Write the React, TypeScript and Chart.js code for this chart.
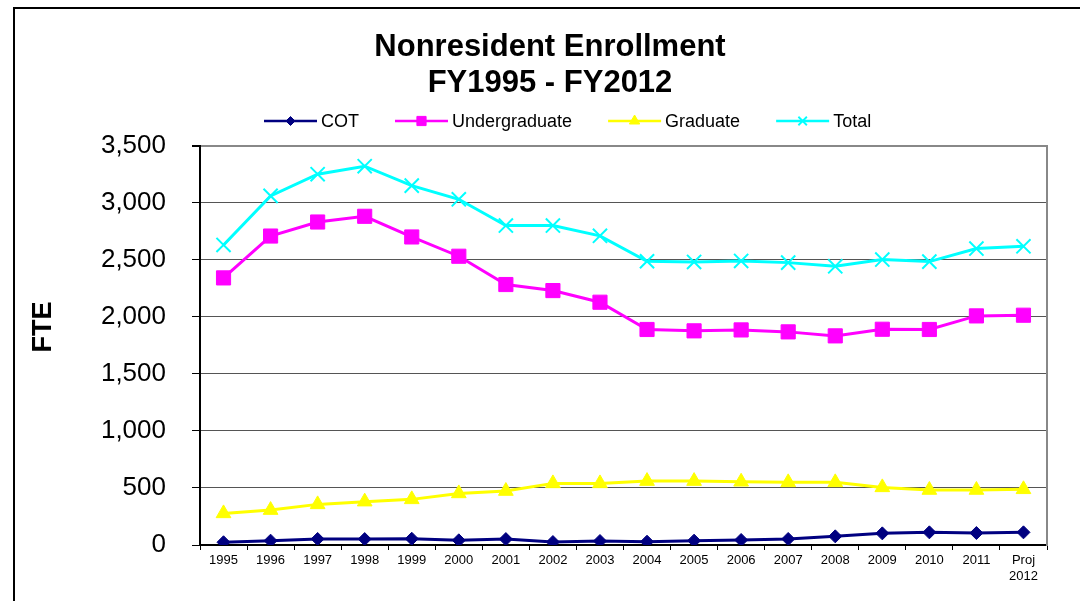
import React, { useEffect, useRef } from "react";
import { Chart, registerables } from "chart.js";

Chart.register(...registerables);

const categories: (string | string[])[] = [
  "1995", "1996", "1997", "1998", "1999", "2000", "2001", "2002", "2003",
  "2004", "2005", "2006", "2007", "2008", "2009", "2010", "2011", ["Proj", "2012"],
];

const cot = [24, 38, 53, 52, 55, 41, 52, 26, 35, 29, 38, 44, 53, 76, 102, 111, 105, 111];
const undergraduate = [2341, 2708, 2831, 2881, 2700, 2531, 2283, 2230, 2128, 1889, 1877, 1885, 1868, 1833, 1891, 1889, 2008, 2014];
const graduate = [277, 306, 356, 380, 400, 452, 473, 540, 540, 560, 560, 554, 549, 549, 505, 482, 482, 488];
const total = [2630, 3060, 3250, 3320, 3150, 3030, 2800, 2800, 2710, 2487, 2481, 2490, 2475, 2443, 2502, 2484, 2598, 2618];

const titleLines = ["Nonresident Enrollment", "FY1995 - FY2012"];
const yTitle = "FTE";
const yMin = 0;
const yMax = 3500;
const yStep = 500;

const FONT = "'Liberation Sans', Arial, Helvetica, sans-serif";

type SeriesStyle = {
  label: string;
  data: number[];
  color: string;
  pointStyle: string;
  radius: number;
  pointBorderWidth: number;
  legendRadius: number;
};

const series: SeriesStyle[] = [
  { label: "COT", data: cot, color: "#000080", pointStyle: "rectRot", radius: 6.5, pointBorderWidth: 1, legendRadius: 4.5 },
  { label: "Undergraduate", data: undergraduate, color: "#FF00FF", pointStyle: "rect", radius: 10, pointBorderWidth: 1, legendRadius: 6.5 },
  { label: "Graduate", data: graduate, color: "#FFFF00", pointStyle: "triangle", radius: 8.5, pointBorderWidth: 1, legendRadius: 6 },
  { label: "Total", data: total, color: "#00FFFF", pointStyle: "crossRot", radius: 10, pointBorderWidth: 2, legendRadius: 6 },
];

function drawMarker(ctx: CanvasRenderingContext2D, style: string, r: number, x: number, y: number) {
  ctx.beginPath();
  if (style === "rectRot") {
    ctx.moveTo(x, y - r);
    ctx.lineTo(x + r, y);
    ctx.lineTo(x, y + r);
    ctx.lineTo(x - r, y);
    ctx.closePath();
    ctx.fill();
    ctx.stroke();
  } else if (style === "rect") {
    const s = r * Math.SQRT1_2;
    ctx.rect(x - s, y - s, 2 * s, 2 * s);
    ctx.fill();
    ctx.stroke();
  } else if (style === "triangle") {
    ctx.moveTo(x, y - r);
    ctx.lineTo(x + r * Math.sin((2 * Math.PI) / 3), y - r * Math.cos((2 * Math.PI) / 3));
    ctx.lineTo(x + r * Math.sin((4 * Math.PI) / 3), y - r * Math.cos((4 * Math.PI) / 3));
    ctx.closePath();
    ctx.fill();
    ctx.stroke();
  } else {
    const o = r * Math.SQRT1_2;
    ctx.moveTo(x - o, y - o);
    ctx.lineTo(x + o, y + o);
    ctx.moveTo(x + o, y - o);
    ctx.lineTo(x - o, y + o);
    ctx.stroke();
  }
}

const legendPlugin = {
  id: "lineLegend",
  afterDraw(chart: any) {
    const ctx = chart.ctx as CanvasRenderingContext2D;
    const y = 121;
    let x = 264;
    const lineLen = 53;
    const gap = 4;
    const itemGap = 36;
    ctx.save();
    ctx.font = `18px ${FONT}`;
    ctx.textBaseline = "middle";
    ctx.textAlign = "left";
    chart.data.datasets.forEach((ds: any, i: number) => {
      const s = series[i];
      ctx.strokeStyle = s.color;
      ctx.lineWidth = 2.5;
      ctx.beginPath();
      ctx.moveTo(x, y);
      ctx.lineTo(x + lineLen, y);
      ctx.stroke();
      ctx.fillStyle = s.color;
      ctx.strokeStyle = s.color;
      ctx.lineWidth = s.pointStyle === "crossRot" ? 1.8 : 1;
      drawMarker(ctx, s.pointStyle, s.legendRadius, x + lineLen / 2, y);
      ctx.fillStyle = "#000";
      ctx.fillText(ds.label, x + lineLen + gap, y + 1);
      x += lineLen + gap + ctx.measureText(ds.label).width + itemGap;
    });
    ctx.restore();
  },
};

const yTitlePlugin = {
  id: "yTitleText",
  afterDraw(chart: any) {
    const ctx = chart.ctx as CanvasRenderingContext2D;
    ctx.save();
    ctx.translate(43.5, 327);
    ctx.rotate(-Math.PI / 2);
    ctx.font = `bold 27px ${FONT}`;
    ctx.fillStyle = "#000";
    ctx.textAlign = "center";
    ctx.textBaseline = "middle";
    ctx.fillText(yTitle, 0, 0);
    ctx.restore();
  },
};

export default function App() {
  const canvasRef = useRef<HTMLCanvasElement | null>(null);

  useEffect(() => {
    if (!canvasRef.current) return;
    Chart.defaults.font.family = FONT;
    Chart.defaults.color = "#000";
    const chart = new Chart(canvasRef.current, {
      type: "line",
      data: {
        labels: categories as any,
        datasets: series.map((s) => ({
          label: s.label,
          data: s.data,
          borderColor: s.color,
          backgroundColor: s.color,
          borderWidth: 3,
          pointStyle: s.pointStyle as any,
          pointRadius: s.radius,
          pointHoverRadius: s.radius,
          pointBorderWidth: s.pointBorderWidth,
          pointBackgroundColor: s.color,
          pointBorderColor: s.color,
          tension: 0,
          fill: false,
          yAxisID: "y",
        })),
      },
      options: {
        animation: false,
        responsive: true,
        maintainAspectRatio: false,
        layout: { padding: { left: 20, right: 0, top: 0, bottom: 0 } },
        plugins: {
          legend: { display: false },
          tooltip: { enabled: false },
          title: {
            display: true,
            text: titleLines,
            color: "#000",
            font: { family: FONT, size: 31, weight: "bold", lineHeight: 1.14 },
            padding: { top: 30, bottom: 45 },
          },
        },
        scales: {
          x: {
            type: "category",
            offset: true,
            grid: {
              offset: true,
              drawOnChartArea: false,
              drawTicks: true,
              tickLength: 5,
              tickColor: "#000",
              tickWidth: 1,
            },
            border: { display: true, color: "#000", width: 2 },
            ticks: {
              color: "#000",
              font: { family: FONT, size: 13 },
              padding: 3,
              maxRotation: 0,
              minRotation: 0,
              autoSkip: false,
            },
            afterFit(scale: any) {
              scale.height = 56;
            },
          },
          y: {
            type: "linear",
            position: "left",
            min: yMin,
            max: yMax,
            ticks: {
              stepSize: yStep,
              color: "#000",
              font: { family: FONT, size: 26 },
              padding: 26,
              callback: (v: any) => Number(v).toLocaleString("en-US"),
            },
            grid: {
              color: (c: any) => (c.tick && c.tick.value === yMax ? "#888" : "#555"),
              lineWidth: (c: any) => (c.tick && c.tick.value === yMax ? 2 : 1),
              tickColor: "#000",
              tickLength: 8,
              drawTicks: true,
            },
            border: { display: true, color: "#000", width: 2 },
            title: { display: false },
            afterFit(scale: any) {
              scale.width = 180;
            },
          },
          y2: {
            type: "linear",
            position: "right",
            min: yMin,
            max: yMax,
            ticks: { display: false },
            grid: { drawOnChartArea: false, drawTicks: false },
            border: { display: true, color: "#888", width: 2 },
            afterFit(scale: any) {
              scale.width = 33;
            },
          },
        },
      },
      plugins: [legendPlugin, yTitlePlugin],
    });
    return () => chart.destroy();
  }, []);

  return (
    <div
      style={{
        position: "fixed",
        left: 0,
        top: 0,
        width: 1080,
        height: 601,
        overflow: "hidden",
        background: "#fff",
      }}
    >
      <div
        style={{
          position: "absolute",
          left: 13,
          top: 7,
          width: 2000,
          height: 2000,
          borderLeft: "2px solid #000",
          borderTop: "2px solid #000",
        }}
      />
      <canvas ref={canvasRef} style={{ position: "absolute", left: 0, top: 0 }} />
    </div>
  );
}
